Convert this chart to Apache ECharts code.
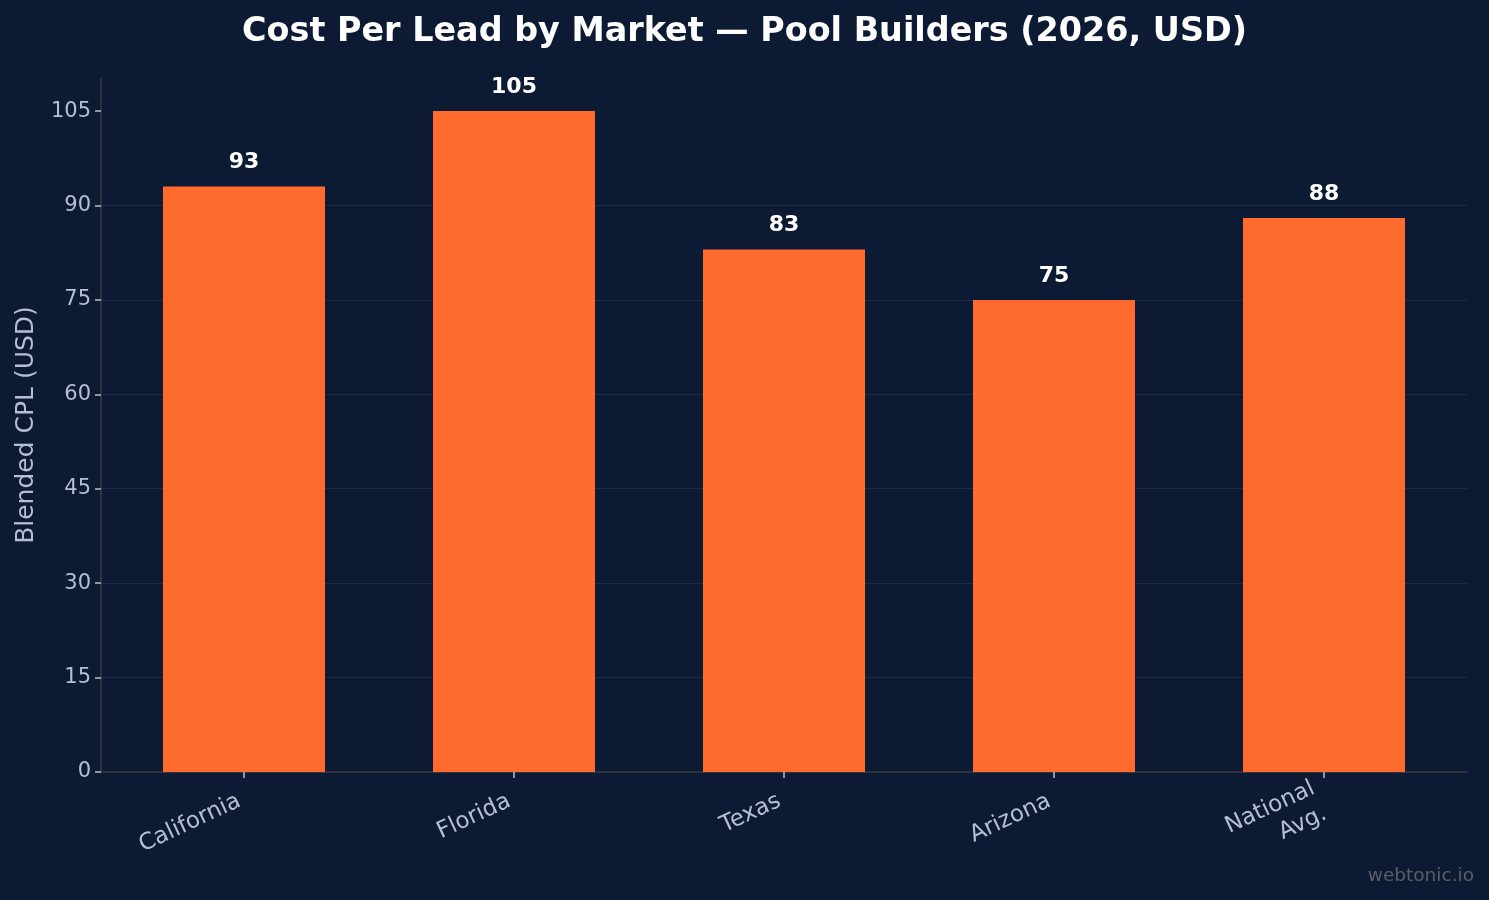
<!DOCTYPE html>
<html>
<head>
<meta charset="utf-8">
<script src="https://cdn.jsdelivr.net/npm/echarts@6/dist/echarts.min.js"></script>
<style>
  html, body { margin: 0; padding: 0; background: #0c1b33; }
  #main { width: 1489px; height: 900px; }
</style>
</head>
<body>
<div id="main"></div>
<script>
// data
const markets = ["California", "Florida", "Texas", "Arizona", "National\nAvg."]
const cpl = [93, 105, 83, 75, 88]
const yTicks = [0, 15, 30, 45, 60, 75, 90, 105]

const textColor = "#b4bfd3"
const font = "DejaVu Sans"

const chart = echarts.init(document.getElementById("main"))

chart.setOption({
  backgroundColor: "#0c1b33",
  animation: false,
  textStyle: { fontFamily: font },
  title: {
    text: "Cost Per Lead by Market — Pool Builders (2026, USD)",
    left: "center",
    top: 11,
    textStyle: { color: "#ffffff", fontSize: 33.4, fontWeight: "bold", fontFamily: font }
  },
  graphic: [{
    type: "text",
    right: 15,
    bottom: 14,
    style: { text: "webtonic.io", fill: "#5a5f66", fontSize: 18.5, fontFamily: font }
  }],
  grid: [
    // axes frame + grid lines
    { left: 101, right: 22, top: 78, bottom: 128 },
    // bars, bands of 270px
    { left: 109, right: 30, top: 78, bottom: 128 }
  ],
  xAxis: [
    {
      gridIndex: 0, type: "value", min: 0, max: 1,
      axisLine: { show: true, lineStyle: { color: "#3a3a3a", width: 1.5 } },
      axisTick: { show: false }, axisLabel: { show: false }, splitLine: { show: false }
    },
    {
      gridIndex: 1, type: "category", data: markets,
      axisLine: { show: false },
      axisTick: { show: true, alignWithLabel: true, length: 6, lineStyle: { color: textColor, width: 1.5 } },
      axisLabel: {
        color: textColor, fontSize: 23, fontFamily: font,
        rotate: 25, margin: 26, align: "right", lineHeight: 28,
        padding: [0, 5, 0, 0]
      }
    }
  ],
  yAxis: [
    {
      gridIndex: 0, type: "value", min: 0, max: 110.25, interval: 15,
      name: "Blended CPL (USD)", nameLocation: "middle", nameGap: 62,
      nameTextStyle: { color: textColor, fontSize: 25, fontFamily: font },
      axisLine: { show: true, lineStyle: { color: "#3a3a3a", width: 1.5 } },
      axisTick: { show: true, length: 6, customValues: yTicks, lineStyle: { color: textColor, width: 1.5 } },
      axisLabel: {
        color: textColor, fontSize: 21, fontFamily: font, margin: 10,
        customValues: yTicks
      },
      splitLine: { show: true, showMaxLine: false, lineStyle: { color: "#1d2b45", width: 1 } }
    },
    {
      gridIndex: 1, type: "value", min: 0, max: 110.25, show: false
    }
  ],
  series: [{
    type: "bar",
    xAxisIndex: 1,
    yAxisIndex: 1,
    data: cpl,
    barWidth: "60%",
    itemStyle: { color: "#ff6b2e" },
    label: {
      show: true, position: "top", distance: 13,
      color: "#ffffff", fontSize: 22, fontWeight: "bold", fontFamily: font
    }
  }]
})
</script>
</body>
</html>
